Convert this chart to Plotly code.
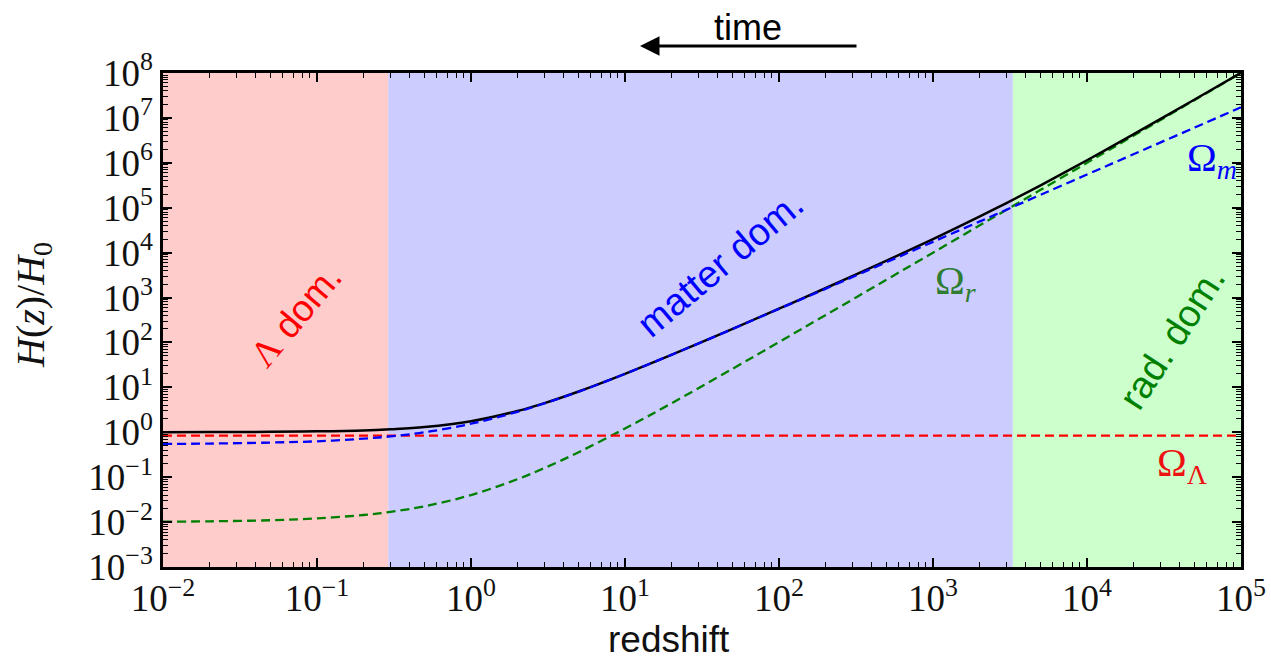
import plotly.graph_objects as go

# ---- data ----
redshift = [0.01, 0.02, 0.05, 0.1, 0.2, 0.3, 0.5, 1, 2, 3, 5, 10, 20, 50, 100,
            200, 500, 1000, 2000, 3000, 5000, 1e4, 2e4, 5e4, 1e5]
h_total = [1.005, 1.009, 1.023, 1.048, 1.10, 1.17, 1.31, 1.76, 2.97, 4.46, 8.1,
           20.0, 52.7, 201, 565, 1610, 6640, 20000, 63300, 127000, 316000,
           1.14e6, 4.29e6, 2.57e7, 1.01e8]
h_matter = [0.55, 0.56, 0.59, 0.63, 0.72, 0.81, 1.0, 1.55, 2.85, 4.4, 8.0,
            20.0, 53, 200, 560, 1560, 6140, 17400, 49000, 90000, 194000,
            548000, 1.55e6, 6.1e6, 1.73e7]
h_rad = [0.0102, 0.0104, 0.011, 0.0121, 0.0144, 0.0169, 0.0225, 0.04, 0.09,
         0.16, 0.36, 1.21, 4.4, 26, 102, 404, 2510, 10000, 40000, 90000,
         250000, 1e6, 4e6, 2.5e7, 1e8]
lambda_z = [0.01, 1e5]
h_lambda = [0.84, 0.84]

# epoch boundaries (redshift)
z_lambda_end = 0.29
z_equality = 3300
x_min, x_max = 0.01, 1e5
y_min, y_max = 1e-3, 1e8

major_x = [1e-2, 1e-1, 1e0, 1e1, 1e2, 1e3, 1e4, 1e5]
major_x_text = ["10<sup>−2</sup>", "10<sup>−1</sup>", "10<sup>0</sup>", "10<sup>1</sup>",
                "10<sup>2</sup>", "10<sup>3</sup>", "10<sup>4</sup>", "10<sup>5</sup>"]
major_y = [1e-3, 1e-2, 1e-1, 1e0, 1e1, 1e2, 1e3, 1e4, 1e5, 1e6, 1e7, 1e8]
major_y_text = ["10<sup>−3</sup>", "10<sup>−2</sup>", "10<sup>−1</sup>", "10<sup>0</sup>",
                "10<sup>1</sup>", "10<sup>2</sup>", "10<sup>3</sup>", "10<sup>4</sup>",
                "10<sup>5</sup>", "10<sup>6</sup>", "10<sup>7</sup>", "10<sup>8</sup>"]
minor_x = [m * 10 ** e for e in range(-2, 5) for m in range(2, 10)]
minor_y = [m * 10 ** e for e in range(-3, 8) for m in range(2, 10)]

fig = go.Figure()

# shaded epochs
bands = [
    (x_min, z_lambda_end, "#ffcccc"),
    (z_lambda_end, z_equality, "#ccccff"),
    (z_equality, x_max, "#ccffcc"),
]
for a, b, c in bands:
    fig.add_trace(go.Scatter(x=[a, b, b, a, a], y=[y_min, y_min, y_max, y_max, y_min],
                             fill="toself", fillcolor=c, mode="none",
                             hoverinfo="skip", showlegend=False))

dash = "9px,5px"
fig.add_trace(go.Scatter(x=redshift, y=h_rad, mode="lines", line_shape="spline",
                         line=dict(color="#008000", width=2.3, dash=dash), showlegend=False))
fig.add_trace(go.Scatter(x=lambda_z, y=h_lambda, mode="lines",
                         line=dict(color="#ff0000", width=2.3, dash=dash), showlegend=False))
fig.add_trace(go.Scatter(x=redshift, y=h_total, mode="lines", line_shape="spline",
                         line=dict(color="black", width=2.5), showlegend=False))
fig.add_trace(go.Scatter(x=redshift, y=h_matter, mode="lines", line_shape="spline",
                         line=dict(color="#0000ff", width=2.3, dash=dash), showlegend=False))

serif = "Liberation Serif, DejaVu Serif, serif"
sans = "Liberation Sans, Arial, Helvetica, sans-serif"

axis_common = dict(
    type="log", showline=True, linecolor="black", linewidth=2.5, mirror="allticks",
    ticks="inside", ticklen=9, tickwidth=1.5, tickcolor="black",
    showgrid=False, zeroline=False, automargin=False,
    tickfont=dict(family=serif, size=37, color="#111"),
    minor=dict(ticks="inside", ticklen=5, tickwidth=1, tickcolor="black",
               showgrid=False, tickmode="array"),
)

fig.update_xaxes(**axis_common, range=[-2, 5], tickmode="array",
                 tickvals=major_x, ticktext=major_x_text)
fig.update_xaxes(minor_tickvals=minor_x, ticklabelstandoff=-3)
fig.update_yaxes(**axis_common, range=[-3, 8], tickmode="array",
                 tickvals=major_y, ticktext=major_y_text)
fig.update_yaxes(minor_tickvals=minor_y)

L, R, T, B = 163, 1241, 73, 567
W, H = R - L, B - T


def px(x, y):
    return (x - L) / W, (B - y) / H


annots = [
    ("<span style='font-family:Liberation Serif'>Λ</span> dom.", 295, 316, "#ff0000", -50, 37, sans, "middle"),
    ("matter dom.", 720, 264, "#0000ff", -40, 38, sans, "middle"),
    ("rad. dom.", 1172, 338, "#008000", -57, 38, sans, "middle"),
    ("Ω<sub><i>m</i></sub>", 1212, 160, "#0000ff", 0, 40, serif, "middle"),
    ("Ω<sub><i>r</i></sub>", 955, 283, "#2e7d32", 0, 40, serif, "middle"),
    ("Ω<sub>Λ</sub>", 1182, 465, "#ee1111", 0, 40, serif, "middle"),
    ("redshift", 669, 661, "#111111", 0, 37, sans, "bottom"),
    ("time", 748, 28, "#000000", 0, 36, sans, "middle"),
    ("<i>H</i>(<i>z</i>)/<i>H</i><sub>0</sub>", 33, 305, "#111111", -90, 40, serif, "middle"),
]
for text, x, y, col, ang, size, fam, ya in annots:
    xp, yp = px(x, y)
    fig.add_annotation(x=xp, y=yp, xref="paper", yref="paper", text=text,
                       showarrow=False, textangle=ang, borderpad=0,
                       font=dict(family=fam, size=size, color=col),
                       xanchor="center", yanchor=ya)

# time arrow
hx, hy = px(640, 46)
fig.add_annotation(x=hx, y=hy, xref="paper", yref="paper", text="",
                   showarrow=True, ax=218, ay=0, axref="pixel", ayref="pixel",
                   arrowhead=2, arrowsize=1.3, arrowwidth=3, arrowcolor="black")

fig.update_layout(
    width=1271, height=662,
    margin=dict(l=L, r=1271 - R, t=T, b=662 - B),
    paper_bgcolor="white", plot_bgcolor="white",
    showlegend=False,
)

fig.write_html("out.html")
